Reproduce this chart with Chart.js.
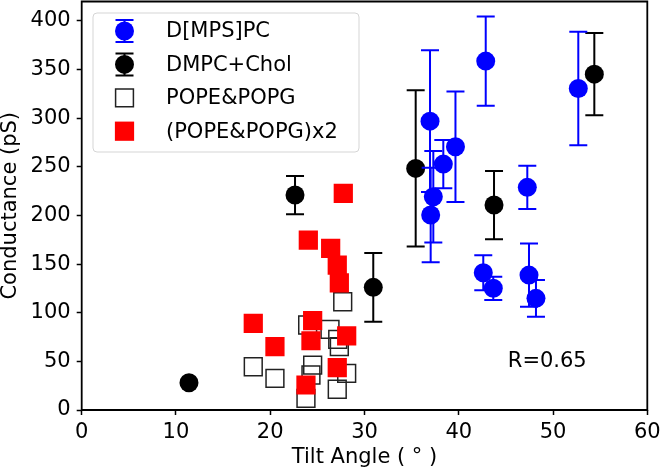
<!DOCTYPE html>
<html>
<head>
<meta charset="utf-8">
<script src="https://cdn.jsdelivr.net/npm/chart.js"></script>
<style>
  html, body { margin: 0; padding: 0; background: #fff; }
  #wrap { width: 661px; height: 471px; }
</style>
</head>
<body>
<div id="wrap"><canvas id="tilt-chart"></canvas></div>
<script>
// D[MPS]PC (blue circles, with error bars)
const mpsX   = [36.95, 37.30, 37.02, 38.36, 39.65, 42.86, 52.68, 47.27, 42.60, 43.66, 47.45, 48.19];
const mpsY   = [297.0, 219.2, 200.4, 252.8, 270.6, 358.7, 330.6, 228.9, 141.1, 125.1, 138.7, 114.8];
const mpsErr = [72.8, 47.0, 48.6, 24.9, 56.8, 45.9, 58.3, 22.3, 18.0, 12.0, 32.6, 18.8];

// DMPC+Chol (black circles, with error bars)
const cholX   = [35.43, 43.74, 54.38, 30.93, 22.63, 11.38];
const cholY   = [248.4, 210.7, 345.3, 126.1, 221.0, 28.1];
const cholErr = [80.3, 35.1, 42.3, 35.3, 19.7, 0];

// POPE&POPG (open squares)
const popeX = [27.69, 23.97, 26.34, 27.16, 27.33, 18.20, 24.50, 24.32, 28.11, 20.50, 27.11, 23.79];
const popeY = [111.3, 87.4, 82.9, 72.7, 65.1, 44.5, 46.2, 36.0, 37.7, 32.6, 21.3, 12.0];

// (POPE&POPG)x2 (red squares)
const pope2X = [27.75, 24.04, 26.41, 27.11, 27.33, 18.20, 24.50, 24.32, 28.11, 20.50, 27.11, 23.79];
const pope2Y = [222.7, 174.7, 166.2, 149.0, 130.8, 89.1, 91.8, 71.2, 76.1, 65.1, 43.5, 25.7];

const xTicks = [0, 10, 20, 30, 40, 50, 60];
const yTicks = [0, 50, 100, 150, 200, 250, 300, 350, 400];

const rText = 'R=0.65';
const rPos = { x: 45.2, y: 44.5 };

const FONT = '"DejaVu Sans", sans-serif';

function toPoints(xs, ys) {
  return xs.map((x, i) => ({ x: x, y: ys[i] }));
}

// vertical error bars with caps, drawn just before each dataset's markers
const errorBars = {
  id: 'errorBars',
  beforeDatasetDraw(chart, args) {
    const ds = chart.data.datasets[args.index];
    if (!ds.errors) return;
    const xs = chart.scales.x, ys = chart.scales.y;
    const ctx = chart.ctx;
    ctx.save();
    ctx.strokeStyle = ds.borderColor;
    ctx.lineWidth = 2;
    ds.data.forEach((p, i) => {
      const e = ds.errors[i];
      if (!e) return;
      const px = xs.getPixelForValue(p.x);
      const top = ys.getPixelForValue(p.y + e);
      const bot = ys.getPixelForValue(p.y - e);
      ctx.beginPath();
      ctx.moveTo(px, top); ctx.lineTo(px, bot);
      ctx.moveTo(px - 9, top); ctx.lineTo(px + 9, top);
      ctx.moveTo(px - 9, bot); ctx.lineTo(px + 9, bot);
      ctx.stroke();
    });
    ctx.restore();
  }
};

// box frame, legend inside the plot and the R annotation
const extras = {
  id: 'extras',
  afterDatasetsDraw(chart) {
    const ctx = chart.ctx;
    const xs = chart.scales.x, ys = chart.scales.y;
    const l = xs.getPixelForValue(xs.min), r = xs.getPixelForValue(xs.max);
    const t = ys.getPixelForValue(ys.max), b = ys.getPixelForValue(ys.min);
    ctx.save();
    ctx.strokeStyle = '#000';
    ctx.lineWidth = 1.8;
    ctx.beginPath();
    ctx.moveTo(l, t); ctx.lineTo(r, t); ctx.lineTo(r, b); ctx.lineTo(l, b); ctx.closePath();
    ctx.stroke();

    ctx.fillStyle = '#000';
    ctx.font = '21px ' + FONT;
    ctx.textAlign = 'left';
    ctx.textBaseline = 'alphabetic';
    ctx.fillText(rText, xs.getPixelForValue(rPos.x), ys.getPixelForValue(rPos.y));

    // legend
    const bx = 93, by = 13, bw = 266, bh = 139;
    ctx.beginPath();
    if (ctx.roundRect) ctx.roundRect(bx, by, bw, bh, 4); else ctx.rect(bx, by, bw, bh);
    ctx.fillStyle = 'rgba(255,255,255,0.8)';
    ctx.fill();
    ctx.strokeStyle = '#d5d5d5';
    ctx.lineWidth = 1;
    ctx.stroke();

    const mx = 124.5, tx = 166;
    chart.data.datasets.forEach((ds, i) => {
      const cy = 31 + i * 33.4;
      if (ds.errors) {
        ctx.strokeStyle = ds.borderColor;
        ctx.lineWidth = 2;
        ctx.beginPath();
        ctx.moveTo(mx, cy - 11); ctx.lineTo(mx, cy + 11);
        ctx.moveTo(mx - 9, cy - 11); ctx.lineTo(mx + 9, cy - 11);
        ctx.moveTo(mx - 9, cy + 11); ctx.lineTo(mx + 9, cy + 11);
        ctx.stroke();
      }
      ctx.fillStyle = ds.backgroundColor;
      ctx.strokeStyle = ds.borderColor;
      ctx.lineWidth = ds.borderWidth;
      Chart.helpers.drawPoint(ctx, {
        pointStyle: ds.pointStyle,
        radius: ds.pointRadius,
        borderWidth: ds.borderWidth,
        rotation: 0
      }, mx, cy);
      ctx.fillStyle = '#000';
      ctx.font = '21px ' + FONT;
      ctx.textBaseline = 'middle';
      ctx.fillText(ds.label, tx, cy + 1);
    });
    ctx.restore();
  }
};

Chart.defaults.font.family = FONT;
Chart.defaults.color = '#000';

new Chart(document.getElementById('tilt-chart'), {
  type: 'scatter',
  data: {
    datasets: [
      {
        label: 'D[MPS]PC', data: toPoints(mpsX, mpsY), errors: mpsErr,
        pointStyle: 'circle', pointRadius: 9.5, borderWidth: 0,
        backgroundColor: '#0000ff', borderColor: '#0000ff', order: 1
      },
      {
        label: 'DMPC+Chol', data: toPoints(cholX, cholY), errors: cholErr,
        pointStyle: 'circle', pointRadius: 9.5, borderWidth: 0,
        backgroundColor: '#000000', borderColor: '#000000', order: 1
      },
      {
        label: 'POPE&POPG', data: toPoints(popeX, popeY),
        pointStyle: 'rect', pointRadius: 12.6, borderWidth: 1.5,
        backgroundColor: 'rgba(0,0,0,0)', borderColor: '#222222', order: 1
      },
      {
        label: '(POPE&POPG)x2', data: toPoints(pope2X, pope2Y),
        pointStyle: 'rect', pointRadius: 13.6, borderWidth: 0,
        backgroundColor: '#ff0000', borderColor: '#ff0000', order: 0
      }
    ]
  },
  options: {
    responsive: true,
    maintainAspectRatio: false,
    animation: false,
    devicePixelRatio: 1,
    events: [],
    layout: { autoPadding: false, padding: { top: 1.5, right: 13.7, left: 0, bottom: 0 } },
    plugins: {
      legend: { display: false },
      tooltip: { enabled: false }
    },
    scales: {
      x: {
        type: 'linear', min: 0, max: 60,
        afterBuildTicks: s => { s.ticks = xTicks.map(v => ({ value: v })); },
        afterFit: s => { s.height = 61; s.paddingLeft = 0; s.paddingRight = 0; },
        border: { display: false },
        grid: { drawOnChartArea: false, color: '#000', tickLength: 5, tickWidth: 1.5, tickColor: '#000' },
        ticks: { color: '#000', font: { size: 21 }, padding: 5, maxRotation: 0 },
        title: {
          display: true, text: 'Tilt Angle ( ° )', color: '#000',
          font: { size: 21 }, padding: { top: 0, bottom: 1 }
        }
      },
      y: {
        type: 'linear', min: 0, max: 420,
        afterBuildTicks: s => { s.ticks = yTicks.map(v => ({ value: v })); },
        afterFit: s => { s.width = 81.7; s.paddingTop = 0; s.paddingBottom = 0; },
        border: { display: false },
        grid: { drawOnChartArea: false, color: '#000', tickLength: 5, tickWidth: 1.5, tickColor: '#000' },
        ticks: { color: '#000', font: { size: 21 }, padding: 6 },
        title: {
          display: true, text: 'Conductance (pS)', color: '#000',
          font: { size: 21, lineHeight: 1 }, padding: { top: 0, bottom: 0 }
        }
      }
    }
  },
  plugins: [errorBars, extras]
});
</script>
</body>
</html>
